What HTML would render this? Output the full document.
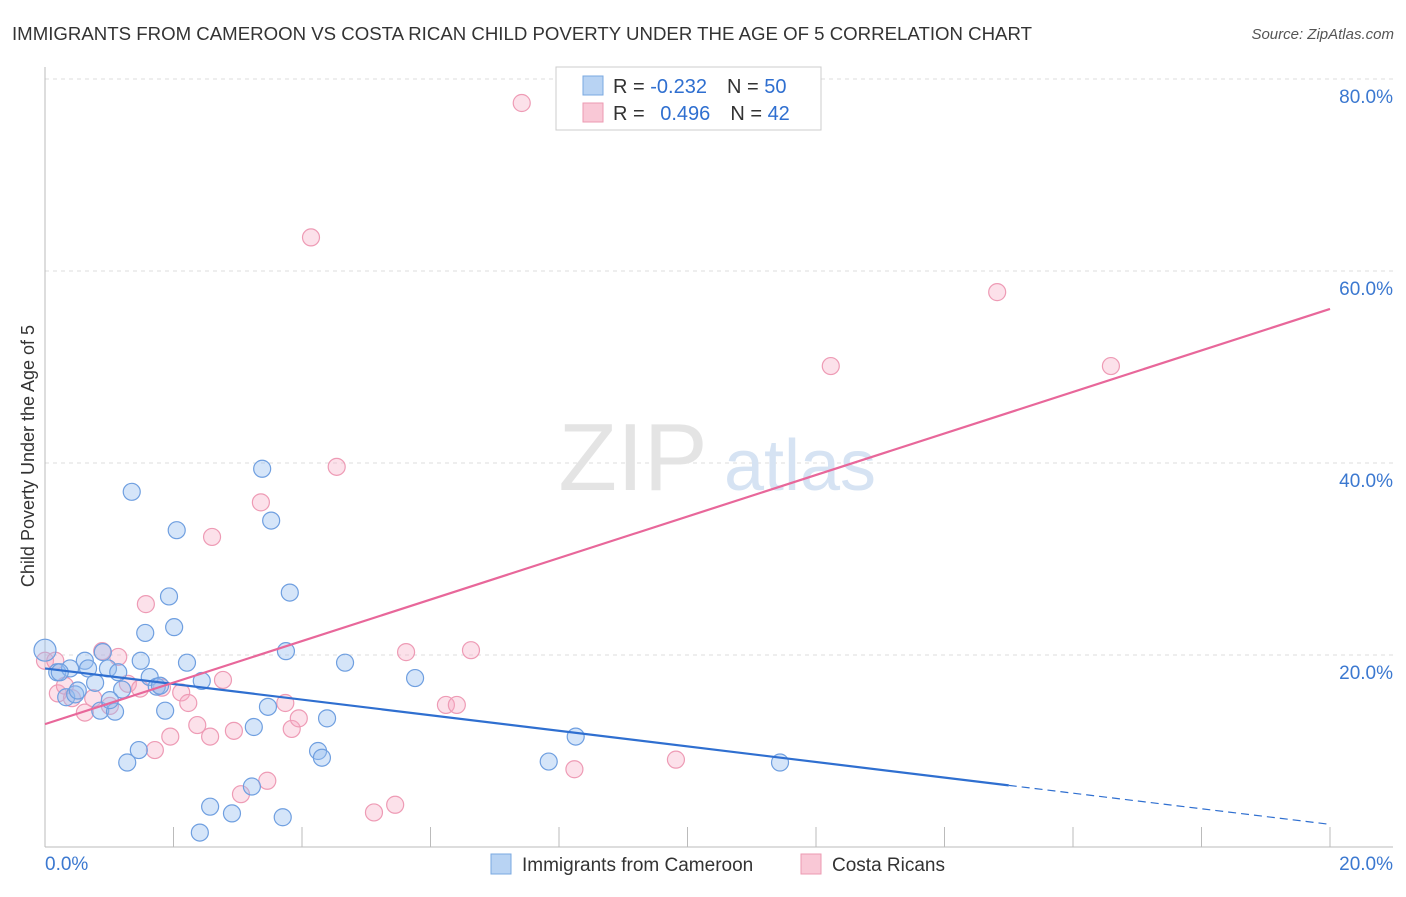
<!DOCTYPE html>
<html><head><meta charset="utf-8"><style>
body{margin:0;background:#fff;font-family:"Liberation Sans",sans-serif}
svg text{font-family:"Liberation Sans",sans-serif}
</style></head><body>
<svg id="c" width="1406" height="892">
<text x="12" y="40" font-size="18" fill="#333" textLength="1020" lengthAdjust="spacingAndGlyphs">IMMIGRANTS FROM CAMEROON VS COSTA RICAN CHILD POVERTY UNDER THE AGE OF 5 CORRELATION CHART</text>
<text x="1394" y="39" font-size="15" fill="#555" text-anchor="end" font-style="italic">Source: ZipAtlas.com</text>
<g id="grid"></g>
<text x="633" y="490" font-size="96" fill="#e4e4e4" font-family="Liberation Serif" text-anchor="middle">ZIP</text>
<text x="800" y="490" font-size="72" fill="#d6e3f3" text-anchor="middle">atlas</text>
<text transform="translate(34,456) rotate(-90)" font-size="18" fill="#333" text-anchor="middle">Child Poverty Under the Age of 5</text>
<g id="pts"></g>
<g id="lines"></g>
<g>
<rect x="556" y="67" width="265" height="63" fill="#fff" stroke="#ccc"/>
<rect x="583" y="76" width="20" height="19" fill="#b8d3f3" stroke="#7aa8e0"/>
<rect x="583" y="103" width="20" height="19" fill="#f9c8d6" stroke="#ec9ab2"/>
<text x="613" y="93" font-size="20" fill="#333">R = <tspan fill="#2f6fd0">-0.232</tspan><tspan dx="20">N = </tspan><tspan fill="#2f6fd0">50</tspan></text>
<text x="613" y="120" font-size="20" fill="#333">R = <tspan fill="#2f6fd0" dx="10">0.496</tspan><tspan dx="20">N = </tspan><tspan fill="#2f6fd0">42</tspan></text>
</g>
<g>
<rect x="491" y="854" width="20" height="20" fill="#b8d3f3" stroke="#7aa8e0"/>
<text x="522" y="871" font-size="19" fill="#333">Immigrants from Cameroon</text>
<rect x="801" y="854" width="20" height="20" fill="#f9c8d6" stroke="#ec9ab2"/>
<text x="832" y="871" font-size="19" fill="#333">Costa Ricans</text>
</g>
</svg>
<script>
const yTicks=[20,40,60,80];
const yTickLabels=["20.0%","40.0%","60.0%","80.0%"];
const blueX=[0,0.19,0.39,0.33,0.47,0.51,0.62,0.67,0.78,0.86,0.90,0.98,1.09,1.14,1.20,1.28,1.35,1.46,1.49,1.56,1.63,1.74,1.79,1.87,1.93,2.01,2.05,2.21,2.41,2.44,2.57,2.91,3.22,3.25,3.38,3.47,3.52,3.70,3.75,3.81,4.25,4.31,4.39,4.67,5.76,7.84,8.26,11.44,0.23,1.01];
const blueY=[20.5,18.2,18.6,15.6,15.9,16.3,19.4,18.6,17.1,14.2,20.3,18.6,14.1,18.2,16.4,8.8,37.0,10.1,19.4,22.3,17.7,16.7,16.8,14.2,26.1,22.9,33.0,19.2,1.5,17.3,4.2,3.5,6.3,12.5,39.4,14.6,34.0,3.1,20.4,26.5,10.0,9.3,13.4,19.2,17.6,8.9,11.5,8.8,18.2,15.3];
const pinkX=[0,0.16,0.20,0.31,0.42,0.62,0.75,0.89,1.01,1.14,1.29,1.48,1.57,1.71,1.82,1.95,2.12,2.23,2.37,2.57,2.60,2.77,2.94,3.05,3.36,3.46,3.74,3.84,3.95,4.14,4.54,5.12,5.45,5.62,6.24,6.41,6.63,7.42,8.24,9.82,12.23,14.82,16.59];
const pinkY=[19.4,19.4,16.0,16.8,15.5,14.0,15.5,20.4,14.7,19.8,17.0,16.5,25.3,10.1,16.6,11.5,16.1,15.0,12.7,11.5,32.3,17.4,12.1,5.5,35.9,6.9,15.0,12.3,13.4,63.5,39.6,3.6,4.4,20.3,14.8,14.8,20.5,77.5,8.1,9.1,50.1,57.8,50.1];
const blueFit=[18.6,-0.232];
const pinkFit=[12.8,0.496];
const X=v=>45+v*64.25, Y=v=>847-v*9.6;
const NS="http://www.w3.org/2000/svg";
function mk(t,a,p){const e=document.createElementNS(NS,t);for(const k in a)e.setAttribute(k,a[k]);p.appendChild(e);return e;}
const g=document.getElementById('grid');
yTicks.forEach((t,i)=>{const l=mk('line',{x1:45,x2:1393,y1:Y(t),y2:Y(t),stroke:'#ddd','stroke-dasharray':'4,4'},g);

const tx=mk('text',{x:1393,y:Y(t)+24,'font-size':19,fill:'#3b78d0','text-anchor':'end'},g);tx.textContent=yTickLabels[i];
});
const ax=mk('line',{x1:45,x2:45,y1:67,y2:847,stroke:'#bbb'},g);
const bx=mk('line',{x1:45,x2:1393,y1:847,y2:847,stroke:'#bbb'},g);
for(let i=1;i<=10;i++){const t=mk('line',{x1:X(i*2),x2:X(i*2),y1:827,y2:847,stroke:'#bbb'},g);}
const x0=mk('text',{x:45,y:870,'font-size':19,fill:'#3b78d0'},g);x0.textContent='0.0%';
const x1=mk('text',{x:1393,y:870,'font-size':19,fill:'#3b78d0','text-anchor':'end'},g);x1.textContent='20.0%';
const P=document.getElementById('pts');
pinkX.forEach((v,i)=>{const c=mk('circle',{cx:X(v),cy:Y(pinkY[i]),r:8.5,fill:'rgba(246,170,195,0.35)',stroke:'#ee9bb5','stroke-width':1.2},P);
});
blueX.forEach((v,i)=>{const c=mk('circle',{cx:X(v),cy:Y(blueY[i]),r:i==0?11:8.5,fill:'rgba(150,190,240,0.4)',stroke:'#6f9fe0','stroke-width':1.2},P);
});
const L=document.getElementById('lines');
const bl=mk('line',{x1:X(0),y1:Y(blueFit[0]),x2:X(15),y2:Y(blueFit[0]+blueFit[1]*15*3.5),stroke:'#2f6fd0','stroke-width':2.2},L);

const bd=mk('line',{x1:X(15),y1:Y(blueFit[0]+blueFit[1]*15*3.5),x2:X(20),y2:Y(blueFit[0]+blueFit[1]*20*3.5),stroke:'#2f6fd0','stroke-width':1.2,'stroke-dasharray':'8,5'},L);

const pl=mk('line',{x1:X(0),y1:Y(pinkFit[0]),x2:X(20),y2:Y(pinkFit[0]+pinkFit[1]*20*4.36),stroke:'#e8679a','stroke-width':2.2},L);

</script>
</body></html>
